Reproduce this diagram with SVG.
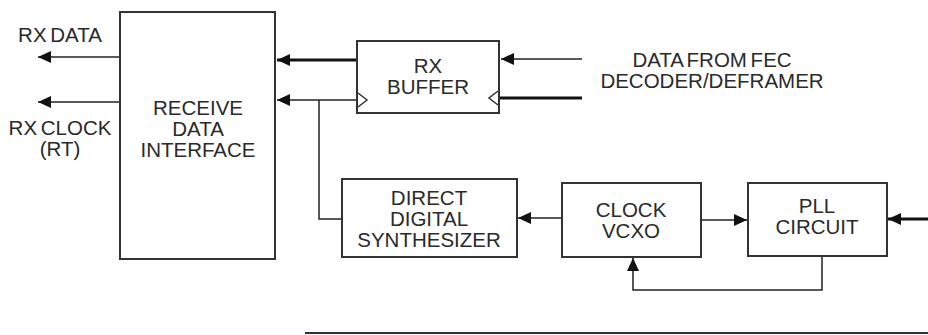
<svg xmlns="http://www.w3.org/2000/svg" width="928" height="335" viewBox="0 0 928 335">
<style>
.box{fill:#fff;stroke:#333;stroke-width:2}
.t{font-family:"Liberation Sans",Arial,sans-serif;font-size:20.5px;fill:#2a2a2a;text-anchor:middle;word-spacing:-2px}
.thin{fill:none;stroke:#222;stroke-width:1.5}
.thick{fill:none;stroke:#111;stroke-width:3}
.clk{fill:#fff;stroke:#333;stroke-width:1.5}
</style>
<defs>
<marker id="ah" markerUnits="userSpaceOnUse" markerWidth="14" markerHeight="14" viewBox="0 0 14 14" refX="13" refY="7" orient="auto">
<path d="M0,1 L13,7 L0,13 Z" fill="#111"/>
</marker>
</defs>
<g id="connectors">
<line class="thin" x1="119" y1="57" x2="38" y2="57" marker-end="url(#ah)"/>
<line class="thin" x1="119" y1="102" x2="38" y2="102" marker-end="url(#ah)"/>
<line class="thick" x1="357" y1="60" x2="277" y2="60" marker-end="url(#ah)"/>
<line class="thin" x1="357" y1="100" x2="277" y2="100" marker-end="url(#ah)"/>
<polyline class="thin" points="319,100 319,219 342,219"/>
<line class="thin" x1="582" y1="59" x2="501" y2="59" marker-end="url(#ah)"/>
<line class="thick" x1="582" y1="98" x2="500" y2="98"/>
<line class="thin" x1="562" y1="218" x2="518" y2="218" marker-end="url(#ah)"/>
<line class="thin" x1="701" y1="220" x2="747" y2="220" marker-end="url(#ah)"/>
<polyline class="thin" points="822,256 822,290 633,290 633,258" marker-end="url(#ah)"/>
<line class="thick" x1="928" y1="219" x2="888" y2="219" marker-end="url(#ah)"/>
<line x1="305" y1="333" x2="928" y2="333" stroke="#333" stroke-width="2"/>
</g>
<g id="labels">
<text class="t" x="60" y="42">RX DATA</text>
<text class="t" x="60" y="135">RX CLOCK</text>
<text class="t" x="60" y="156">(RT)</text>
<text class="t" x="712" y="67">DATA FROM FEC</text>
<text class="t" x="712" y="88">DECODER/DEFRAMER</text>
</g>
<g id="receive-data-interface">
<rect class="box" x="120" y="12" width="155" height="247"/>
<text class="t" x="198" y="115">RECEIVE</text>
<text class="t" x="198" y="136">DATA</text>
<text class="t" x="198" y="157">INTERFACE</text>
</g>
<g id="rx-buffer">
<rect class="box" x="357" y="41" width="142" height="72"/>
<polyline class="clk" points="358,93 367,100 358,107"/>
<polyline class="clk" points="498,91 489,98 498,105"/>
<text class="t" x="428" y="73">RX</text>
<text class="t" x="428" y="94">BUFFER</text>
</g>
<g id="dds">
<rect class="box" x="342" y="179" width="175" height="78"/>
<text class="t" x="429" y="205">DIRECT</text>
<text class="t" x="429" y="226">DIGITAL</text>
<text class="t" x="429" y="247">SYNTHESIZER</text>
</g>
<g id="clock-vcxo">
<rect class="box" x="562" y="183" width="139" height="74"/>
<text class="t" x="631" y="217">CLOCK</text>
<text class="t" x="631" y="238">VCXO</text>
</g>
<g id="pll">
<rect class="box" x="748" y="183" width="139" height="73"/>
<text class="t" x="817" y="213">PLL</text>
<text class="t" x="817" y="234">CIRCUIT</text>
</g>
</svg>
